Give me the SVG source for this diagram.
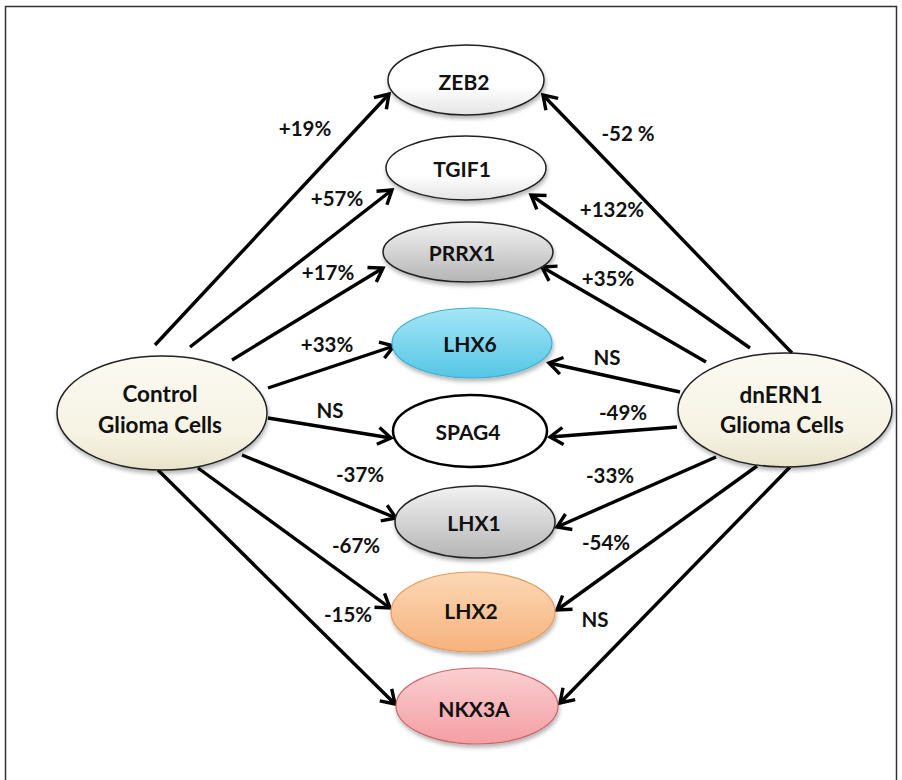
<svg xmlns="http://www.w3.org/2000/svg" width="902" height="780" viewBox="0 0 902 780">
<style>
.n{stroke:#222;stroke-width:1.5}
.t{font-family:Lato,"Open Sans","Liberation Sans",sans-serif;font-weight:bold;font-size:21px;fill:#111;text-anchor:middle;dominant-baseline:central}
.b{font-size:22.5px}
.l{font-family:Lato,"Open Sans","Liberation Sans",sans-serif;font-weight:bold;font-size:20.5px;fill:#111;text-anchor:middle}
.c{stroke:#000;stroke-width:3.4;fill:none;marker-end:url(#ah)}
</style>
<defs>
<marker id="ah" viewBox="-17 -11 20 22" refX="0" refY="0" markerWidth="20" markerHeight="22" markerUnits="userSpaceOnUse" orient="auto">
<path d="M-13,-8.5 L0,0 L-13,8.5" fill="none" stroke="#000" stroke-width="3.4"/>
</marker>
<filter id="sh" x="-10%" y="-10%" width="125%" height="130%"><feGaussianBlur in="SourceAlpha" stdDeviation="2"/><feOffset dx="1" dy="2.5"/><feComponentTransfer><feFuncA type="linear" slope="0.3"/></feComponentTransfer><feMerge><feMergeNode/><feMergeNode in="SourceGraphic"/></feMerge></filter>
<linearGradient id="gw" x1="0" y1="0" x2="0" y2="1"><stop offset="0" stop-color="#ffffff"/><stop offset="0.6" stop-color="#ffffff"/><stop offset="1" stop-color="#e4e4e4"/></linearGradient>
<linearGradient id="gc" x1="0" y1="0" x2="0" y2="1"><stop offset="0" stop-color="#fbfaf2"/><stop offset="0.7" stop-color="#f6f3e3"/><stop offset="1" stop-color="#e8e3cb"/></linearGradient>
<linearGradient id="gg" x1="0" y1="0" x2="0" y2="1"><stop offset="0" stop-color="#f2f2f2"/><stop offset="1" stop-color="#b5b5b5"/></linearGradient>
<linearGradient id="gb" x1="0" y1="0" x2="0" y2="1"><stop offset="0" stop-color="#a5e6f6"/><stop offset="1" stop-color="#55c6e6"/></linearGradient>
<linearGradient id="go" x1="0" y1="0" x2="0" y2="1"><stop offset="0" stop-color="#fcd8b6"/><stop offset="1" stop-color="#f6b27c"/></linearGradient>
<linearGradient id="gp" x1="0" y1="0" x2="0" y2="1"><stop offset="0" stop-color="#fbcfd1"/><stop offset="1" stop-color="#f39fa3"/></linearGradient>
</defs>
<rect x="5.5" y="6.5" width="891" height="800" fill="#fff" stroke="#333" stroke-width="1.5"/>
<g id="connectors">
<line class="c" x1="155" y1="345" x2="389" y2="94"/>
<line class="c" x1="190" y1="347" x2="392" y2="190"/>
<line class="c" x1="232" y1="360" x2="383" y2="268"/>
<line class="c" x1="268" y1="388" x2="394" y2="346"/>
<line class="c" x1="268" y1="418" x2="391" y2="438"/>
<line class="c" x1="242" y1="455" x2="396" y2="518"/>
<line class="c" x1="198" y1="468" x2="390" y2="608"/>
<line class="c" x1="158" y1="470" x2="395" y2="704"/>
<line class="c" x1="792" y1="353" x2="543" y2="95"/>
<line class="c" x1="750" y1="348" x2="531" y2="195"/>
<line class="c" x1="706" y1="362" x2="542" y2="267"/>
<line class="c" x1="680" y1="392" x2="549" y2="363"/>
<line class="c" x1="677" y1="427" x2="550" y2="437"/>
<line class="c" x1="716" y1="457" x2="557" y2="527"/>
<line class="c" x1="757" y1="466" x2="557" y2="610"/>
<line class="c" x1="790" y1="467" x2="560" y2="703"/>
</g>
<g id="labels">
<text class="l" x="305" y="136">+19%</text>
<text class="l" x="337" y="206">+57%</text>
<text class="l" x="328" y="280">+17%</text>
<text class="l" x="327" y="352">+33%</text>
<text class="l" x="330" y="418">NS</text>
<text class="l" x="360" y="482">-37%</text>
<text class="l" x="356" y="553">-67%</text>
<text class="l" x="348" y="622">-15%</text>
<text class="l" x="628" y="141">-52 %</text>
<text class="l" x="612" y="217">+132%</text>
<text class="l" x="608" y="286">+35%</text>
<text class="l" x="607" y="365">NS</text>
<text class="l" x="623" y="420">-49%</text>
<text class="l" x="610" y="483">-33%</text>
<text class="l" x="606" y="550">-54%</text>
<text class="l" x="595" y="627">NS</text>
</g>
<g id="control"><ellipse class="n" cx="162" cy="413" rx="105" ry="57" fill="url(#gc)" filter="url(#sh)"/><text class="t b" x="160" y="393">Control</text><text class="t b" x="160" y="424">Glioma Cells</text></g>
<g id="dnern1"><ellipse class="n" cx="785" cy="410" rx="107" ry="57" fill="url(#gc)" filter="url(#sh)"/><text class="t b" x="781" y="394">dnERN1</text><text class="t b" x="782" y="424">Glioma Cells</text></g>
<g id="zeb2"><ellipse class="n" cx="466" cy="80" rx="78" ry="35" fill="url(#gw)" filter="url(#sh)"/><text class="t" x="464" y="81">ZEB2</text></g>
<g id="tgif1"><ellipse class="n" cx="466" cy="168" rx="80" ry="32" fill="url(#gw)" filter="url(#sh)"/><text class="t" x="462" y="168">TGIF1</text></g>
<g id="prrx1"><ellipse class="n" cx="468" cy="252" rx="85" ry="30" fill="url(#gg)" filter="url(#sh)"/><text class="t" x="462" y="252">PRRX1</text></g>
<g id="lhx6"><ellipse cx="472" cy="343" rx="80" ry="35" fill="url(#gb)" stroke="#3fb0d0" stroke-width="1.2" filter="url(#sh)"/><text class="t" x="470" y="343">LHX6</text></g>
<g id="spag4"><ellipse cx="470" cy="431" rx="77" ry="36" fill="#fff" stroke="#000" stroke-width="2.5"/><text class="t" x="468" y="431">SPAG4</text></g>
<g id="lhx1"><ellipse class="n" cx="475" cy="522" rx="80" ry="36" fill="url(#gg)" filter="url(#sh)"/><text class="t" x="474" y="522">LHX1</text></g>
<g id="lhx2"><ellipse cx="473" cy="612" rx="82" ry="40" fill="url(#go)" stroke="#e59a5c" stroke-width="1.2" filter="url(#sh)"/><text class="t" x="471" y="610">LHX2</text></g>
<g id="nkx3a"><ellipse cx="477" cy="706" rx="81" ry="38" fill="url(#gp)" stroke="#c8686c" stroke-width="1.2" filter="url(#sh)"/><text class="t" x="474" y="708">NKX3A</text></g>
</svg>
